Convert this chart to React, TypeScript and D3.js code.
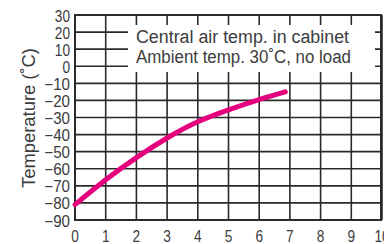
import { useEffect, useRef } from "react";
import * as d3 from "d3";

// cooling curve: hours vs. central air temp
const hours = [0, 1, 2, 3, 4, 5, 6, 6.85];
const temps = [-81, -66.5, -53.5, -42, -32.5, -25.5, -19.5, -15];
const xTicks = [0, 1, 2, 3, 4, 5, 6, 7, 8, 9, 10];
const yTicks = [30, 20, 10, 0, -10, -20, -30, -40, -50, -60, -70, -80, -90];
const legendLines = ["Central air temp. in cabinet", "Ambient temp. 30˚C, no load"];
const yTitle = "Temperature (˚C)";

const W = 384;
const H = 244;
const FONT = "'Liberation Sans', Arial, sans-serif";

export default function App() {
  const svgRef = useRef<SVGSVGElement>(null);

  useEffect(() => {
    if (!svgRef.current) return;
    const svg = d3.select(svgRef.current);
    svg.selectAll("*").remove();

    const x = d3.scaleLinear().domain([0, 10]).range([75, 382]);
    const y = d3.scaleLinear().domain([-90, 30]).range([220, 15]);
    const ink = "#2a2a2a";
    const textInk = "#3c3c3c";

    svg.append("rect").attr("width", W).attr("height", H).attr("fill", "#fff");

    // grid
    const grid = svg.append("g").attr("stroke", ink).attr("stroke-width", 1.6);
    xTicks.forEach(t => {
      grid.append("line")
        .attr("x1", x(t)).attr("x2", x(t))
        .attr("y1", y(30)).attr("y2", y(-90));
    });
    yTicks.forEach(t => {
      grid.append("line")
        .attr("x1", x(0)).attr("x2", x(10))
        .attr("y1", y(t)).attr("y2", y(t));
    });
    svg.append("rect")
      .attr("x", x(0)).attr("y", y(30))
      .attr("width", x(10) - x(0) - 1).attr("height", y(-90) - y(30))
      .attr("fill", "none").attr("stroke", ink).attr("stroke-width", 2);

    // legend box hides the grid behind it
    svg.append("rect")
      .attr("x", 128).attr("y", 25).attr("width", 247).attr("height", 47)
      .attr("fill", "#fff");
    legendLines.forEach((s, i) => {
      svg.append("text")
        .attr("x", 136).attr("y", 42.7 + i * 20)
        .attr("font-family", FONT).attr("font-size", 18)
        .attr("fill", textInk)
        .attr("textLength", i === 0 ? 213 : 215)
        .attr("lengthAdjust", "spacingAndGlyphs")
        .text(s);
    });

    // curve
    const line = d3.line<number>()
      .x((_, i) => x(hours[i]))
      .y(d => y(d))
      .curve(d3.curveNatural);
    svg.append("path")
      .datum(temps)
      .attr("d", line)
      .attr("fill", "none")
      .attr("stroke", "#e5007e")
      .attr("stroke-width", 5)
      .attr("stroke-linecap", "round");

    // tick labels, squeezed to the narrow face of the original
    const labelWidth = (s: string) =>
      s.split("").reduce((w, c) => w + (c === "−" ? 10.5 : 7.6), 0);
    yTicks.forEach(t => {
      const s = t < 0 ? `−${-t}` : `${t}`;
      svg.append("text")
        .attr("x", 70 - labelWidth(s)).attr("y", y(t) + 6.5)
        .attr("font-family", FONT).attr("font-size", 16)
        .attr("fill", textInk)
        .attr("textLength", labelWidth(s))
        .attr("lengthAdjust", "spacingAndGlyphs")
        .text(s);
    });
    xTicks.forEach(t => {
      const s = `${t}`;
      svg.append("text")
        .attr("x", x(t) - labelWidth(s) / 2).attr("y", 241.5)
        .attr("font-family", FONT).attr("font-size", 16)
        .attr("fill", textInk)
        .attr("textLength", labelWidth(s))
        .attr("lengthAdjust", "spacingAndGlyphs")
        .text(s);
    });

    svg.append("text")
      .attr("transform", `translate(35,118) rotate(-90)`)
      .attr("text-anchor", "middle")
      .attr("font-family", FONT).attr("font-size", 18)
      .attr("fill", textInk)
      .attr("textLength", 140)
      .attr("lengthAdjust", "spacingAndGlyphs")
      .text(yTitle);
  }, []);

  return (
    <svg
      ref={svgRef}
      width={W}
      height={H}
      style={{ position: "absolute", left: 0, top: 0, display: "block" }}
    />
  );
}
